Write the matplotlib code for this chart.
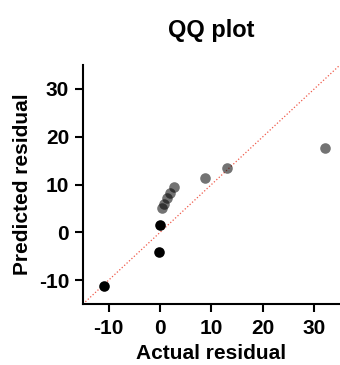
import matplotlib

matplotlib.use("Agg")
import matplotlib.pyplot as plt

plt.rcParams["font.family"] = ["Liberation Sans", "DejaVu Sans"]
plt.rcParams["font.weight"] = "bold"
plt.rcParams["axes.unicode_minus"] = False

# QQ data: actual vs predicted residuals
actual_black = [-10.9, -0.1, -0.2]
predicted_black = [-11.2, 1.6, -4.1]
actual_grey = [0.4, 0.7, 1.3, 2.0, 2.7, 8.7, 13.1, 32.0]
predicted_grey = [5.1, 6.0, 7.1, 8.2, 9.5, 11.3, 13.5, 17.7]
ticks = [-10, 0, 10, 20, 30]
lims = [-15, 35]

fig = plt.figure(figsize=(3.4, 3.65), dpi=100)
ax = fig.add_axes([0.244, 0.167, 0.756, 0.655])

ax.plot(lims, lims, color="#f05a4a", linestyle=":", linewidth=0.9, zorder=1)
ax.scatter(actual_grey, predicted_grey, s=58, color="black", alpha=0.55,
           linewidths=0, zorder=2)
ax.scatter(actual_black, predicted_black, s=58, color="black",
           linewidths=0, zorder=3)

ax.set_xlim(lims)
ax.set_ylim(lims)
ax.set_xticks(ticks)
ax.set_yticks(ticks)
ax.spines["top"].set_visible(False)
ax.spines["right"].set_visible(False)
for s in ("left", "bottom"):
    ax.spines[s].set_linewidth(1.5)
ax.tick_params(direction="out", length=6, width=1.5, labelsize=15, pad=4)
ax.tick_params(axis="x", pad=5)
for lab in ax.get_xticklabels() + ax.get_yticklabels():
    lab.set_fontweight("bold")

ax.set_xlabel("Actual residual", fontsize=15, fontweight="bold", labelpad=4)
ax.set_ylabel("Predicted residual", fontsize=15, fontweight="bold", labelpad=5)
ax.set_title("QQ plot", fontsize=17, fontweight="bold", pad=20)

plt.savefig("out.png", dpi=100)
plt.close()
